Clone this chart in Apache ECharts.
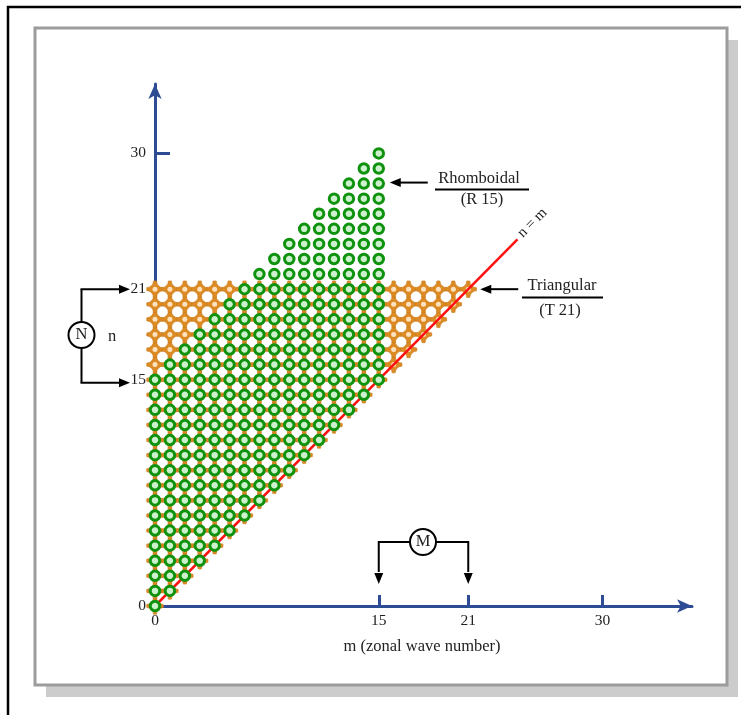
<!DOCTYPE html>
<html>
<head>
<meta charset="utf-8">
<script src="https://cdn.jsdelivr.net/npm/echarts@6/dist/echarts.min.js"></script>
<style>
html,body{margin:0;padding:0;background:#fff;}
#chart{width:741px;height:715px;}
</style>
</head>
<body>
<div id="chart"></div>
<script>
// ---- data (spectral truncation columns) ----
const rhomboidalM    = [0,1,2,3,4,5,6,7,8,9,10,11,12,13,14,15];
const rhomboidalNMin = [0,1,2,3,4,5,6,7,8,9,10,11,12,13,14,15];
const rhomboidalNMax = [15,16,17,18,19,20,21,22,23,24,25,26,27,28,29,30];
const triangularM    = [0,1,2,3,4,5,6,7,8,9,10,11,12,13,14,15,16,17,18,19,20,21];
const triangularNMin = [0,1,2,3,4,5,6,7,8,9,10,11,12,13,14,15,16,17,18,19,20,21];
const triangularNMax = [21,21,21,21,21,21,21,21,21,21,21,21,21,21,21,21,21,21,21,21,21,21];
const diagonal       = [[0,0],[24.3,24.3]];
const xTickLabels    = [0,15,21,30];
const yTickLabels    = [0,15,21,30];
const xTicks         = [15,21,30];
const yTicks         = [30];

function columnsToPoints(ms, mins, maxs){
  const pts = [];
  ms.forEach((m,i)=>{ for(let n=mins[i]; n<=maxs[i]; n++) pts.push([m,n]); });
  return pts;
}
const rhomboidalPts = columnsToPoints(rhomboidalM, rhomboidalNMin, rhomboidalNMax);
const triangularPts = columnsToPoints(triangularM, triangularNMin, triangularNMax);

const FONT = "'Liberation Serif','Times New Roman',serif";
const AXIS = '#2e4c94';
// four-point star: square minus circles at its corners
const STAR = 'path://M7.5,-1.4 L7.5,1.4 A6.1,6.1 0 0 0 1.4,7.5 L-1.4,7.5 A6.1,6.1 0 0 0 -7.5,1.4 L-7.5,-1.4 A6.1,6.1 0 0 0 -1.4,-7.5 L1.4,-7.5 A6.1,6.1 0 0 0 7.5,-1.4 Z';

const chart = echarts.init(document.getElementById('chart'), null, {renderer:'canvas'});
chart.setOption({
  backgroundColor:'#fff',
  animation:false,
  grid:{left:155,right:49,top:84,bottom:109,containLabel:false},
  xAxis:{
    type:'value',min:0,max:36,
    splitLine:{show:false},
    axisLine:{show:true,onZero:false,symbol:['none','arrow'],symbolSize:[10,15],lineStyle:{color:AXIS,width:3}},
    axisTick:{show:true,inside:true,length:11,customValues:xTicks,lineStyle:{color:AXIS,width:3}},
    axisLabel:{customValues:xTickLabels,fontFamily:FONT,fontSize:15.5,color:'#222',margin:7}
  },
  yAxis:{
    type:'value',min:0,max:34.6,
    splitLine:{show:false},
    axisLine:{show:true,onZero:false,symbol:['none','arrow'],symbolSize:[10,15],lineStyle:{color:AXIS,width:3}},
    axisTick:{show:true,inside:true,length:15,customValues:yTicks,lineStyle:{color:AXIS,width:3}},
    axisLabel:{customValues:yTickLabels,fontFamily:FONT,fontSize:15.5,color:'#222',margin:9}
  },
  series:[
    {type:'scatter',name:'T21',data:triangularPts,symbol:STAR,symbolSize:16.5,z:3,
     itemStyle:{color:'#dc8b24',borderColor:'#c97b1b',borderWidth:0.6,opacity:1},silent:true},
    {type:'scatter',name:'T21c',data:triangularPts,symbol:'circle',symbolSize:5,z:4,
     itemStyle:{color:'#fde2bf',opacity:1},silent:true},
    {type:'line',name:'n=m',data:diagonal,showSymbol:false,z:5,
     lineStyle:{color:'#ff1111',width:2.5},silent:true},
    {type:'scatter',name:'R15',data:rhomboidalPts,symbol:'circle',symbolSize:9.5,z:6,
     itemStyle:{color:'#cdf0cd',borderColor:'#0f930f',borderWidth:3,opacity:1},silent:true}
  ]
});

function px(m,n){ return chart.convertToPixel({gridIndex:0},[m,n]); }
const p15_28 = px(15,28), p21_21 = px(21,21), p0 = px(0,0), nm = px(25.3,25.4);
const yN21 = px(0,21)[1], yN15 = px(0,15)[1];
const TF = '16.5px '+FONT;
const txt = (x,y,s,extra)=>Object.assign({type:'text',x:x,y:y,z:20,style:Object.assign({text:s,font:TF,fill:'#222',align:'center',verticalAlign:'middle'},extra||{})});
const ln = (x1,y1,x2,y2)=>({type:'line',z:20,shape:{x1,y1,x2,y2},style:{stroke:'#000',lineWidth:2}});
const head = (x,y,dir)=>{ // filled triangle tip at (x,y)
  let pts;
  if(dir==='left') pts=[[x,y],[x+11,y-4.5],[x+11,y+4.5]];
  else if(dir==='right') pts=[[x,y],[x-11,y-4.5],[x-11,y+4.5]];
  else pts=[[x,y],[x-4.5,y-11],[x+4.5,y-11]];
  return {type:'polygon',z:20,shape:{points:pts},style:{fill:'#000'}};
};

const ax = p0[1];
const xM15 = px(15,0)[0], xM21 = px(21,0)[0];
const g = [
  {type:'rect',z:-20,shape:{x:8,y:7,width:800,height:800},style:{fill:'#fff',stroke:'#000',lineWidth:2.5}},
  {type:'rect',z:-19,shape:{x:46,y:40,width:692,height:657},style:{fill:'#cccccc'}},
  {type:'rect',z:-18,shape:{x:35,y:28,width:692,height:657},style:{fill:'#fff',stroke:'#9c9c9c',lineWidth:3}},
  // Rhomboidal
  ln(p15_28[0]+20,p15_28[1]-1,p15_28[0]+49,p15_28[1]-1), head(p15_28[0]+11,p15_28[1]-1,'left'),
  txt(479,179,'Rhomboidal'),
  ln(435,189.5,529,189.5),
  txt(482,200,'(R 15)'),
  // Triangular
  ln(p21_21[0]+22,p21_21[1],p21_21[0]+50,p21_21[1]), head(p21_21[0]+12,p21_21[1],'left'),
  txt(562,286,'Triangular'),
  ln(522,297.5,603,297.5),
  txt(560,311,'(T 21)'),
  // n = m
  {type:'text',x:nm[0],y:nm[1],z:20,rotation:Math.PI/4,
   style:{text:'n = m',font:'15px '+FONT,fill:'#222',align:'center',verticalAlign:'middle'}},
  // N bracket
  {type:'circle',z:20,shape:{cx:81.5,cy:335,r:13},style:{fill:'#fff',stroke:'#000',lineWidth:2}},
  txt(81.5,335,'N'),
  ln(81.5,322,81.5,yN21),ln(80.5,yN21,120,yN21),head(130,yN21,'right'),
  ln(81.5,348,81.5,yN15+3),ln(80.5,yN15+3,120,yN15+3),head(130,yN15+3,'right'),
  txt(112,337,'n'),
  // M bracket
  {type:'circle',z:20,shape:{cx:423,cy:542,r:13},style:{fill:'#fff',stroke:'#000',lineWidth:2}},
  txt(423,542,'M'),
  ln(410,542,xM15,542),ln(xM15,541,xM15,572),head(xM15,ax-22,'down'),
  ln(436,542,xM21,542),ln(xM21,541,xM21,572),head(xM21,ax-22,'down'),
  txt(422,647,'m (zonal wave number)')
];
chart.setOption({graphic:{elements:g}});
</script>
</body>
</html>
